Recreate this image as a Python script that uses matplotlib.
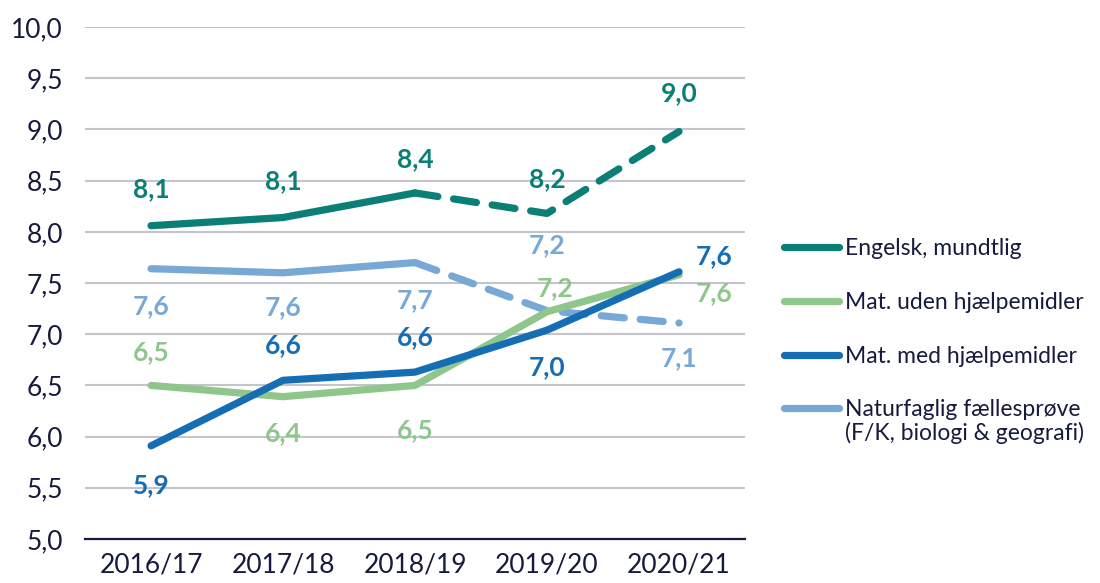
import matplotlib
matplotlib.use("Agg")
import matplotlib.pyplot as plt
from matplotlib.lines import Line2D

plt.rcParams['font.family'] = ['Lato', 'DejaVu Sans']

years = ["2016/17", "2017/18", "2018/19", "2019/20", "2020/21"]
engelsk = [8.06, 8.14, 8.38, 8.18, 8.98]
mat_uden = [6.50, 6.39, 6.50, 7.22, 7.58]
mat_med = [5.91, 6.55, 6.63, 7.04, 7.61]
natur = [7.64, 7.60, 7.70, 7.23, 7.11]
engelsk_lbl = ["8,1", "8,1", "8,4", "8,2", "9,0"]
mat_uden_lbl = ["6,5", "6,4", "6,5", "7,2", "7,6"]
mat_med_lbl = ["5,9", "6,6", "6,6", "7,0", "7,6"]
natur_lbl = ["7,6", "7,6", "7,7", "7,2", "7,1"]
legend_labels = ["Engelsk, mundtlig", "Mat. uden hjælpemidler",
                 "Mat. med hjælpemidler", "Naturfaglig fællesprøve"]
legend_extra = "(F/K, biologi & geografi)"
yticks = [5.0, 5.5, 6.0, 6.5, 7.0, 7.5, 8.0, 8.5, 9.0, 9.5, 10.0]

c_eng = "#0b7f75"
c_uden = "#8ec68b"
c_med = "#156db3"
c_nat = "#77a8d6"
c_text = "#161b3d"

fig = plt.figure(figsize=(11, 5.83), dpi=100)
ax = fig.add_axes([0.0773, 0.0755, 0.6, 0.878])

x = list(range(len(years)))
lw = 5.2
dash = (3.2, 2.2)

def draw(vals, color, split, z):
    if split:
        ax.plot(x[:3], vals[:3], color=color, lw=lw, solid_capstyle='round',
                solid_joinstyle='round', zorder=z)
        ax.plot(x[2:], vals[2:], color=color, lw=lw, ls=(0, dash),
                dash_capstyle='round', zorder=z)
    else:
        ax.plot(x, vals, color=color, lw=lw, solid_capstyle='round',
                solid_joinstyle='round', zorder=z)

draw(natur, c_nat, True, 3)
draw(mat_uden, c_uden, False, 4)
draw(mat_med, c_med, False, 5)
draw(engelsk, c_eng, True, 6)

def labels(vals, lbls, color, offsets):
    for i, (v, l) in enumerate(zip(vals, lbls)):
        dx, dy = offsets[i]
        ax.annotate(l, (x[i], v), xytext=(dx, dy), textcoords='offset points',
                    ha='center', va='center', color=color, fontsize=19,
                    fontweight='bold', zorder=10)

labels(engelsk, engelsk_lbl, c_eng, [(0, 26), (0, 26), (0, 24), (0, 25), (0, 28)])
labels(natur, natur_lbl, c_nat, [(0, -27), (0, -25), (0, -27), (0, 47), (0, -25)])
labels(mat_uden, mat_uden_lbl, c_uden, [(0, 24), (0, -26), (0, -32), (6, 17), (25, -13)])
labels(mat_med, mat_med_lbl, c_med, [(0, -28), (0, 25), (0, 25), (0, -27), (25, 11)])

ax.set_xlim(-0.5, 4.5)
ax.set_ylim(5.0, 10.0)
ax.set_yticks(yticks)
ax.set_yticklabels([f"{t:.1f}".replace(".", ",") for t in yticks])
ax.set_xticks(x)
ax.set_xticklabels(years)
ax.tick_params(axis='both', length=0, labelsize=19, colors=c_text)
ax.tick_params(axis='y', pad=16)
ax.tick_params(axis='x', pad=10)
for s in ['top', 'right', 'left']:
    ax.spines[s].set_visible(False)
ax.spines['bottom'].set_color(c_text)
ax.spines['bottom'].set_linewidth(1.6)
ax.grid(axis='y', color="#c4c4cc", lw=1.5)
ax.set_axisbelow(True)

handles = [Line2D([0], [0], color=c, lw=5.2, solid_capstyle='round')
           for c in [c_eng, c_uden, c_med, c_nat]]
leg = ax.legend(handles, legend_labels, loc='upper left', bbox_to_anchor=(1.045, 0.605),
                frameon=False, fontsize=16.5, handlelength=2.4, handletextpad=0.25,
                labelspacing=1.42, labelcolor=c_text, borderaxespad=0)

fig.canvas.draw()
last = leg.get_texts()[-1]
bb = last.get_window_extent()
fig.text(bb.x0 / fig.bbox.width, (bb.y0 - 2) / fig.bbox.height, legend_extra,
         ha='left', va='top', fontsize=16.5, color=c_text)

fig.savefig("out.png", dpi=100)
